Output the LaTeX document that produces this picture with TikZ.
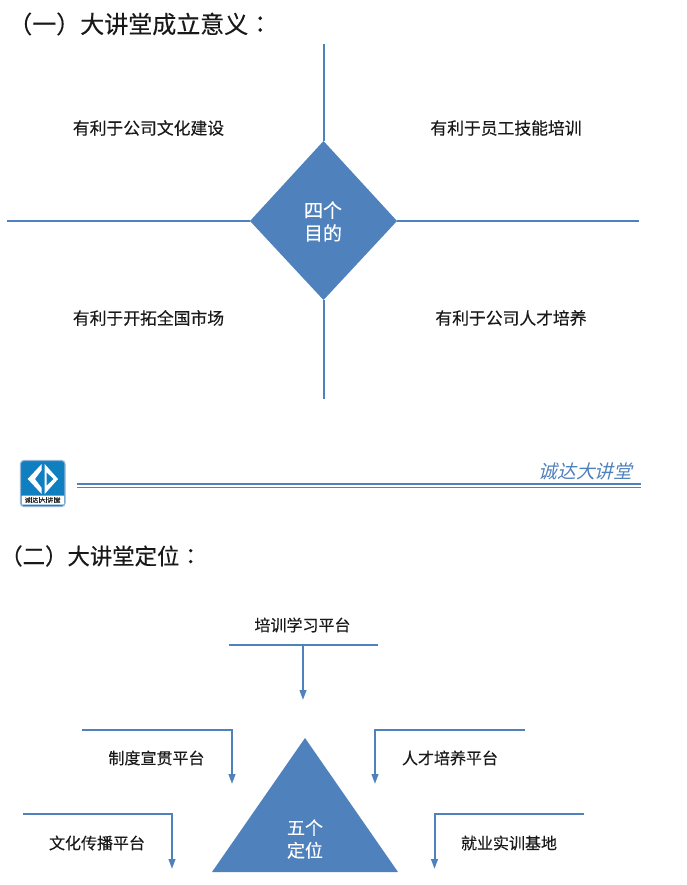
\documentclass[tikz,border=0pt]{standalone}
\usepackage{fontspec}
\setmainfont[FakeBold=0.3]{Noto Sans CJK SC}
\newfontfamily\tcfont[FakeBold=0.3]{Noto Sans CJK TC}
\newfontfamily\slantcjk[FakeSlant=0.25]{Noto Sans CJK SC}
\newfontfamily\logofont[FakeBold=1]{Noto Sans CJK SC}
\usetikzlibrary{arrows.meta,shapes.geometric}
\definecolor{bluefill}{HTML}{4F81BD}
\definecolor{logoblue}{HTML}{0F7FC0}
\newcommand{\logobar}{\hspace{0.45pt}\rule[-0.6pt]{0.3pt}{4.6pt}\hspace{0.45pt}}
\tikzset{
  rule/.style={draw=bluefill,line width=1.5pt},
  arrowrule/.style={rule,-{Triangle[length=7.5pt,width=5pt]}},
  heading/.style={inner sep=0pt,anchor=west,text=black!90},
  lbl/.style={inner sep=0pt,text=black!90,font=\fontsize{12.6}{14}\selectfont},
  lblb/.style={inner sep=0pt,text=black!90,font=\fontsize{12}{14}\selectfont},
  center text/.style={inner sep=0pt,text=white,align=center,font=\fontsize{14.2}{17.2}\selectfont},
}
\begin{document}
\begin{tikzpicture}[x=0.75pt,y=-0.75pt]
\useasboundingbox (0,0) rectangle (686,885);
\node[heading,font=\fontsize{18}{20}\selectfont] (h1) at (8,24) {（一）大讲堂成立意义{\tcfont ：}};
% Section one
\fill[bluefill] (323.5,141) coordinate (dt) -- (397,221) coordinate (dr) -- (323.5,300) coordinate (db) -- (250,221) coordinate (dl) -- cycle;
\node[center text] (d) at (323,221.5) {四个\\目的};
\coordinate (top) at (323.5,44);
\coordinate (bot) at (323.5,399);
\coordinate (lft) at (7,221);
\coordinate (rgt) at (639,221);
\draw[rule] (dt) -- (top);
\draw[rule] (db) -- (bot);
\draw[rule] (dl) -- (lft);
\draw[rule] (dr) -- (rgt);
\node[lbl] (a1) at (148.5,128) {有利于公司文化建设};
\node[lbl] (a2) at (506,128) {有利于员工技能培训};
\node[lbl] (a3) at (148.5,318) {有利于开拓全国市场};
\node[lbl] (a4) at (511,318) {有利于公司人才培养};
% Divider
\draw[bluefill!60,line width=0.8pt,fill=logoblue,rounded corners=2.5pt] (20.5,460.5) rectangle (65,506.5);
\fill[white,rounded corners=0.5pt] (21.5,495.5) rectangle (64,504.5);
\fill[white] (27.7,479) -- (41.7,464) -- (41.7,470) -- (35,479) -- (41.7,488) -- (41.7,494) -- cycle;
\fill[white] (58,479) -- (44.7,464) -- (44.7,494) -- cycle;
\fill[logoblue] (53.3,479) -- (46.7,472.5) -- (46.7,485.5) -- cycle;
\node[inner sep=0pt,text=black!85,font=\logofont\fontsize{4.4}{5}\selectfont] (logotext) at (42.7,500) {诚\logobar 达\logobar 大\logobar 讲\logobar 堂};
\coordinate (ruleL) at (77,484);
\coordinate (ruleR) at (641,484);
\draw[draw=bluefill,line width=1.2pt] (ruleL) -- (ruleR);
\draw[draw=bluefill,line width=0.8pt] ([yshift=-2.3pt]ruleL) -- ([yshift=-2.3pt]ruleR);
\node[inner sep=0pt,text=bluefill,font=\slantcjk\fontsize{14}{16}\selectfont] (brand) at (585.5,471.5) {诚达大讲堂};
\node[heading,font=\fontsize{16.8}{19}\selectfont] (h2) at (0,556) {（二）大讲堂定位{\tcfont ：}};
% Section two
\fill[bluefill] (305,738) coordinate (tt) -- (398,872) coordinate (tr) -- (212,872) coordinate (tl) -- cycle;
\node[center text,font=\fontsize{13.5}{17}\selectfont] (t) at (305,839) {五个\\定位};
\coordinate (b1a) at (228.5,645);
\coordinate (b1b) at (378,645);
\coordinate (b1m) at (303,645);
\coordinate (b1e) at (303,700);
\draw[rule] (b1a) -- (b1b);
\draw[arrowrule] (b1m) -- (b1e);
\node[lblb] (p1) at (302.5,625) {培训学习平台};
\coordinate (b2a) at (82,729.5);
\coordinate (b2c) at (232,729.5);
\coordinate (b2e) at (232,784);
\draw[arrowrule] (b2a) -- (b2c) -- (b2e);
\node[lblb] (p2) at (156.5,758) {制度宣贯平台};
\coordinate (b3a) at (525,729.5);
\coordinate (b3c) at (375,729.5);
\coordinate (b3e) at (375,784);
\draw[arrowrule] (b3a) -- (b3c) -- (b3e);
\node[lblb] (p3) at (450,758) {人才培养平台};
\coordinate (b4a) at (23,814);
\coordinate (b4c) at (172,814);
\coordinate (b4e) at (172,869);
\draw[arrowrule] (b4a) -- (b4c) -- (b4e);
\node[lblb] (p4) at (97,843) {文化传播平台};
\coordinate (b5a) at (584,814);
\coordinate (b5c) at (434.5,814);
\coordinate (b5e) at (434.5,869);
\draw[arrowrule] (b5a) -- (b5c) -- (b5e);
\node[lblb] (p5) at (509,843) {就业实训基地};
\end{tikzpicture}
\end{document}
